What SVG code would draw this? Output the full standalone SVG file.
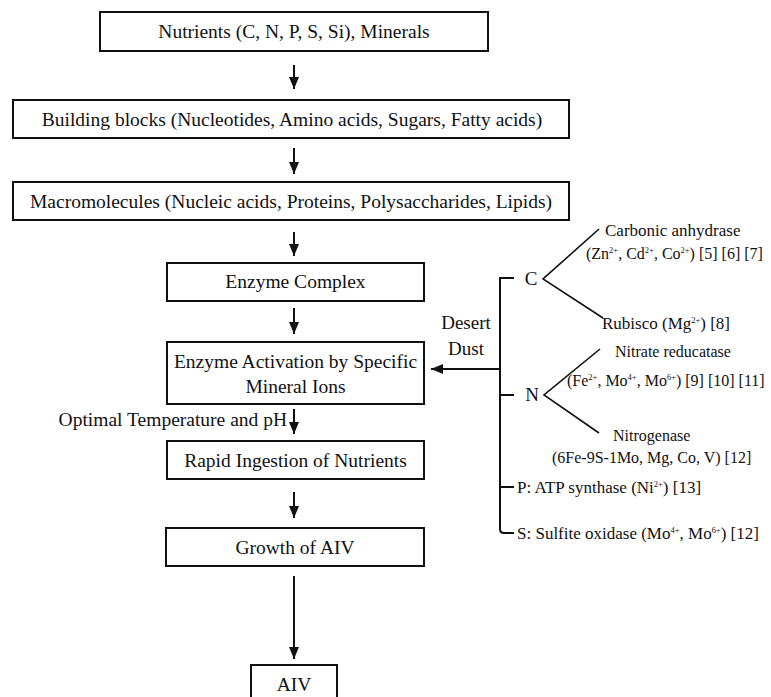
<svg xmlns="http://www.w3.org/2000/svg" width="771" height="697" viewBox="0 0 771 697">
<style>
  .box { fill: #fff; stroke: #111; stroke-width: 2; }
  text { font-family: 'Liberation Serif', 'Times New Roman', 'DejaVu Serif', Times, serif; fill: #111; }
  .t { font-size: 19.5px; text-anchor: middle; }
  .d { font-size: 19px; text-anchor: middle; }
  .s { font-size: 17px; }
  .m { font-size: 16px; }
  .sup { font-size: 8.5px; }
  .ln { stroke: #111; stroke-width: 2; fill: none; }
</style>
<defs>
  <marker id="ah" markerUnits="userSpaceOnUse" markerWidth="12" markerHeight="12" viewBox="0 0 12 12" refX="12" refY="6" orient="auto">
    <path d="M0,1 L12,6 L0,11 Z" fill="#111"/>
  </marker>
</defs>
<rect width="771" height="697" fill="#fff"/>

<g id="n1"><rect class="box" x="100" y="12" width="388" height="39"/><text class="t" x="294" y="38">Nutrients (C, N, P, S, Si), Minerals</text></g>
<g id="n2"><rect class="box" x="13" y="100" width="556" height="38"/><text class="t" x="292" y="126">Building blocks (Nucleotides, Amino acids, Sugars, Fatty acids)</text></g>
<g id="n3"><rect class="box" x="13" y="182" width="556" height="38"/><text class="t" x="291" y="208">Macromolecules (Nucleic acids, Proteins, Polysaccharides, Lipids)</text></g>
<g id="n4"><rect class="box" x="167" y="263" width="257" height="38"/><text class="t" x="295.5" y="288">Enzyme Complex</text></g>
<g id="n5"><rect class="box" x="167" y="342" width="257" height="62"/><text class="t" x="295.5" y="368">Enzyme Activation by Specific</text><text class="t" x="295.5" y="393">Mineral Ions</text></g>
<g id="n6"><rect class="box" x="167" y="441" width="257" height="38"/><text class="t" x="295.5" y="467">Rapid Ingestion of Nutrients</text></g>
<g id="n7"><rect class="box" x="166" y="528" width="258" height="38"/><text class="t" x="295" y="554">Growth of AIV</text></g>
<g id="n8"><rect class="box" x="251" y="665" width="86" height="45"/><text class="t" x="294" y="691">AIV</text></g>

<g id="connectors">
  <line class="ln" x1="294" y1="65" x2="294" y2="89" marker-end="url(#ah)"/>
  <line class="ln" x1="294" y1="148" x2="294" y2="174" marker-end="url(#ah)"/>
  <line class="ln" x1="294" y1="232" x2="294" y2="256" marker-end="url(#ah)"/>
  <line class="ln" x1="294" y1="308" x2="294" y2="334" marker-end="url(#ah)"/>
  <line class="ln" x1="294" y1="409" x2="294" y2="434" marker-end="url(#ah)"/>
  <line class="ln" x1="294" y1="492" x2="294" y2="518" marker-end="url(#ah)"/>
  <line class="ln" x1="294" y1="576" x2="294" y2="659" marker-end="url(#ah)"/>
  <line class="ln" x1="500" y1="369" x2="431" y2="369" marker-end="url(#ah)"/>
  <path class="ln" d="M514,278 H500 V529 Q500,533 504,533 H514"/>
  <line class="ln" x1="500" y1="395" x2="514" y2="395"/>
  <line class="ln" x1="500" y1="487" x2="514" y2="487"/>
  <polyline class="ln" style="stroke-width:1.6" points="599,229 543,279 603,318"/>
  <polyline class="ln" style="stroke-width:1.6" points="600,349 544,395 599,433"/>
</g>

<g id="labels">
  <text class="t" x="287" y="426" style="text-anchor:end">Optimal Temperature and pH</text>
  <text class="d" x="466" y="329">Desert</text>
  <text class="d" x="466" y="355">Dust</text>
  <text class="d" x="531" y="285">C</text>
  <text class="d" x="532" y="401">N</text>
  <text class="s" x="605" y="236">Carbonic anhydrase</text>
  <text class="m" x="586" y="259">(Zn<tspan class="sup" dy="-6">2+</tspan><tspan dy="6">, Cd</tspan><tspan class="sup" dy="-6">2+</tspan><tspan dy="6">, Co</tspan><tspan class="sup" dy="-6">2+</tspan><tspan dy="6">) [5] [6] [7]</tspan></text>
  <text class="s" x="602" y="329">Rubisco (Mg<tspan class="sup" dy="-6">2+</tspan><tspan dy="6">) [8]</tspan></text>
  <text class="m" x="615" y="357">Nitrate reducatase</text>
  <text class="m" x="567" y="386">(Fe<tspan class="sup" dy="-6">2+</tspan><tspan dy="6">, Mo</tspan><tspan class="sup" dy="-6">4+</tspan><tspan dy="6">, Mo</tspan><tspan class="sup" dy="-6">6+</tspan><tspan dy="6">) [9] [10] [11]</tspan></text>
  <text class="m" x="613" y="441">Nitrogenase</text>
  <text class="m" x="552" y="463">(6Fe-9S-1Mo, Mg, Co, V) [12]</text>
  <text class="s" x="517" y="493">P: ATP synthase (Ni<tspan class="sup" dy="-6">2+</tspan><tspan dy="6">) [13]</tspan></text>
  <text class="s" x="517" y="539">S: Sulfite oxidase (Mo<tspan class="sup" dy="-6">4+</tspan><tspan dy="6">, Mo</tspan><tspan class="sup" dy="-6">6+</tspan><tspan dy="6">) [12]</tspan></text>
</g>
</svg>
